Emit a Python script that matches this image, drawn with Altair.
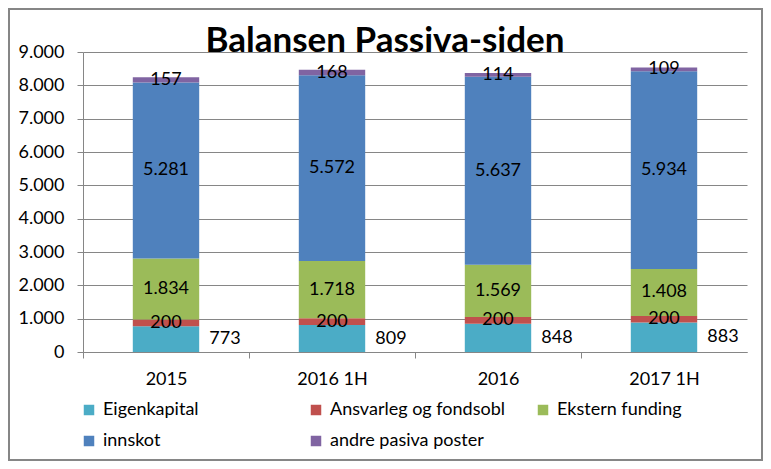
import altair as alt
import pandas as pd

categories = ["2015", "2016 1H", "2016", "2017 1H"]
series = ["Eigenkapital", "Ansvarleg og fondsobl", "Ekstern funding", "innskot", "andre pasiva poster"]
colors = ["#4BACC6", "#C0504D", "#9BBB59", "#4F81BD", "#8064A2"]

eigenkapital = [773, 809, 848, 883]
ansvarleg = [200, 200, 200, 200]
ekstern = [1834, 1718, 1569, 1408]
innskot = [5281, 5572, 5637, 5934]
andre = [157, 168, 114, 109]

y_ticks = [0, 1000, 2000, 3000, 4000, 5000, 6000, 7000, 8000, 9000]
title_text = "Balansen Passiva-siden"

rows = []
for si, (name, vals) in enumerate(zip(series, [eigenkapital, ansvarleg, ekstern, innskot, andre])):
    for c, v in zip(categories, vals):
        rows.append({"cat": c, "series": name, "ord": si, "value": v,
                     "label": f"{v:,}".replace(",", ".")})
df = pd.DataFrame(rows)

FONT = "Lato"
GRID = "#868686"

base = alt.Chart(df).transform_stack(
    stack="value", groupby=["cat"], as_=["v0", "v1"],
    sort=[alt.SortField("ord", order="ascending")]
).transform_calculate(mid="(datum.v0 + datum.v1) / 2")

xaxis = alt.Axis(labelAngle=0, labelFont=FONT, labelFontSize=18, labelColor="black",
                 tickSize=6, tickColor=GRID, domainColor=GRID, tickOffset=-83,
                 labelOffset=83, labelPadding=12, grid=False)
yaxis = alt.Axis(values=y_ticks, labelFont=FONT, labelFontSize=18, labelColor="black",
                 labelExpr="replace(format(datum.value, ','), ',', '.')",
                 tickSize=6, tickColor=GRID, domainColor=GRID, gridColor=GRID,
                 labelPadding=13, labelOverlap=False)
xscale = alt.Scale(paddingInner=0, paddingOuter=0)
yscale = alt.Scale(domain=[0, 9000], nice=False)

def xenc():
    return alt.X("cat:N", sort=categories, title=None, scale=xscale, axis=xaxis)

bars = base.mark_bar(width={"band": 0.4}).encode(
    x=xenc(),
    y=alt.Y("v0:Q", scale=yscale, title=None, axis=yaxis),
    y2="v1:Q",
    color=alt.Color("series:N", scale=alt.Scale(domain=series, range=colors),
                    legend=alt.Legend(title=None)),
)

labels = base.transform_filter("datum.series != 'Eigenkapital'").mark_text(
    font=FONT, fontSize=18, color="black", align="center", baseline="middle"
).encode(
    x=xenc(),
    y=alt.Y("mid:Q", scale=yscale, title=None, axis=yaxis),
    text="label:N",
)

eig_labels = base.transform_filter("datum.series == 'Eigenkapital'").mark_text(
    font=FONT, fontSize=18, color="black", align="center", baseline="middle", dx=59
).encode(
    x=xenc(),
    y=alt.Y("mid:Q", scale=yscale, title=None, axis=yaxis),
    text="label:N",
)

title = alt.Chart(pd.DataFrame({"t": [title_text]})).mark_text(
    font=FONT, fontSize=35, fontWeight="bold", color="black", align="center",
    baseline="alphabetic"
).encode(text="t:N", x=alt.value(302), y=alt.value(0))

border = alt.Chart(pd.DataFrame({"a": [0]})).mark_rect(
    filled=False, stroke=GRID, strokeWidth=2
).encode(x=alt.value(-74), x2=alt.value(679), y=alt.value(-43), y2=alt.value(408))

chart = alt.layer(bars, labels, eig_labels, title, border).properties(
    width=664, height=300,
    autosize=alt.AutoSizeParams(type="none"),
    padding={"left": 75, "top": 44, "right": 16, "bottom": 109},
).configure_view(stroke=None).configure_legend(
    orient="none", legendX=-3, legendY=349, columns=3, gridAlign="all",
    direction="horizontal", columnPadding=29, rowPadding=13, padding=0,
    symbolType="square", symbolSize=110, symbolStrokeWidth=0, labelLimit=400,
    labelFont=FONT, labelFontSize=18, labelColor="black", labelOffset=5,
).configure_axis(gridWidth=1)

chart.save("out.html", embed_options={"renderer": "svg", "actions": False})
